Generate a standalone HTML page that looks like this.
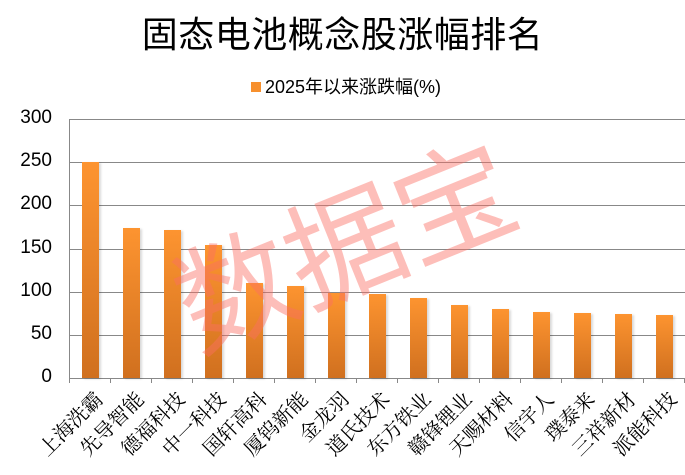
<!DOCTYPE html><html><head><meta charset="utf-8"><style>
body{margin:0;width:685px;height:475px;background:#fff;overflow:hidden;position:relative;font-family:"Liberation Sans","Noto Sans CJK SC",sans-serif}
.t{position:absolute;left:0;width:685px;top:6px;text-align:center;font-size:36px;font-family:"Noto Sans CJK SC",sans-serif;color:#000;letter-spacing:0.5px}
.lg{position:absolute;left:251px;top:73px;font-size:18px;color:#000}
.lg i{display:inline-block;width:10px;height:10px;background:#f7902e;margin-right:4px;vertical-align:1px}
.y{position:absolute;left:0;width:52px;text-align:right;font-size:19px;color:#000}
.g{position:absolute;left:69px;width:616px;height:1px;background:#888}
.b{position:absolute;width:17px;background:linear-gradient(#fd9430,#d0701f);box-shadow:2px 1px 2px rgba(0,0,0,.15)}
.tk{position:absolute;top:378px;width:1px;height:5px;background:#888}
.xl{position:absolute;font-size:20px;font-family:"Noto Serif CJK SC",serif;white-space:nowrap;transform-origin:100% 50%;transform:rotate(-45deg);text-align:right}
.wm{position:absolute;left:165px;top:180px;font-size:118px;color:rgba(250,110,100,.45);transform:rotate(-22deg);font-family:"Noto Sans CJK SC",sans-serif;white-space:nowrap;line-height:1}
</style></head><body>
<div class="t">固态电池概念股涨幅排名</div>
<div class="lg"><i></i>2025年以来涨跌幅(%)</div>
<div id="c"></div>
<script>
var v=[250,174,172,154,110,107,98,97,93,84,80,77,75,74,73];
var n=["上海洗霸","先导智能","德福科技","中一科技","国轩高科","厦钨新能","金龙羽","道氏技术","东方铁业","赣锋锂业","天赐材料","信宇人","璞泰来","三祥新材","派能科技"];
var h="";
for(var k=0;k<=6;k++){var y=378-k*50*0.8633;h+='<div class="g" style="top:'+Math.round(y)+'px"></div><div class="y" style="top:'+(Math.round(y)-12)+'px">'+k*50+'</div>';}
h+='<div style="position:absolute;left:69px;top:119px;width:1px;height:264px;background:#888"></div>';
for(var i=0;i<15;i++){var x=69+41*i;h+='<div class="tk" style="left:'+x+'px"></div>';
var bh=v[i]*0.8633;h+='<div class="b" style="left:'+(x+13)+'px;top:'+(378-bh)+'px;height:'+bh+'px"></div>';
h+='<div class="xl" style="right:'+(685-(x+29))+'px;top:380px">'+n[i]+'</div>';}
h+='<div class="tk" style="left:684px"></div>';
document.getElementById("c").innerHTML=h;
</script>
<div class="wm">数据宝</div>
</body></html>
